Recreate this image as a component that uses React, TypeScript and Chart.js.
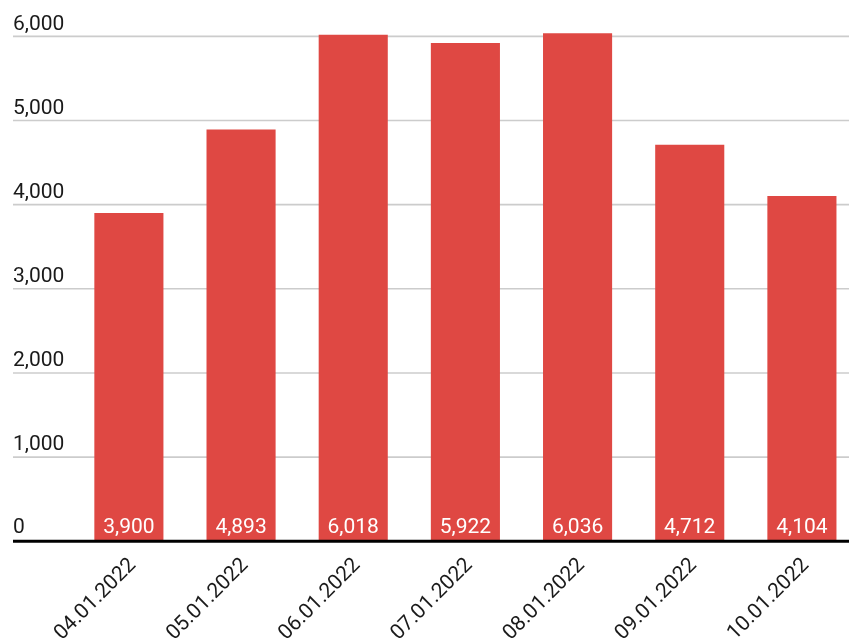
import React, { useEffect, useRef } from "react";
import { Chart, registerables } from "chart.js";

Chart.register(...registerables);

const categories = ["04.01.2022", "05.01.2022", "06.01.2022", "07.01.2022", "08.01.2022", "09.01.2022", "10.01.2022"];
const values = [3900, 4893, 6018, 5922, 6036, 4712, 4104];
const yTicks = [0, 1000, 2000, 3000, 4000, 5000, 6000];

const FONT = "Roboto, 'Noto Sans', sans-serif";
const fmt = (v: number) => v.toLocaleString("en-US");

const overlayPlugin = {
  id: "overlay",
  beforeDatasetsDraw(chart: any) {
    const { ctx, scales } = chart;
    const y = scales.y;
    ctx.save();
    ctx.strokeStyle = "#cccccc";
    ctx.lineWidth = 1.6;
    ctx.font = `21px ${FONT}`;
    ctx.fillStyle = "#1a1a1a";
    ctx.textAlign = "left";
    ctx.textBaseline = "alphabetic";
    yTicks.forEach((t) => {
      const py = y.getPixelForValue(t);
      if (t !== 0) {
        ctx.beginPath();
        ctx.moveTo(13, py);
        ctx.lineTo(chart.width, py);
        ctx.stroke();
      }
      ctx.fillText(fmt(t), 13, py - (t === 0 ? 8.5 : 6.8));
    });
    ctx.restore();
  },
  afterDatasetsDraw(chart: any) {
    const { ctx, scales } = chart;
    const y = scales.y;
    const zero = y.getPixelForValue(0);
    ctx.save();
    ctx.strokeStyle = "#000000";
    ctx.lineWidth = 3;
    ctx.beginPath();
    ctx.moveTo(13, zero);
    ctx.lineTo(chart.width, zero);
    ctx.stroke();
    const meta = chart.getDatasetMeta(0);
    ctx.font = `21px ${FONT}`;
    ctx.fillStyle = "#ffffff";
    ctx.textAlign = "center";
    ctx.textBaseline = "alphabetic";
    meta.data.forEach((bar: any, i: number) => {
      ctx.fillText(fmt(values[i]), bar.x, zero - 8);
    });
    ctx.restore();
  },
};

export default function App() {
  const ref = useRef<HTMLCanvasElement>(null);
  useEffect(() => {
    if (!ref.current) return;
    const chart = new Chart(ref.current, {
      type: "bar",
      data: {
        labels: categories,
        datasets: [
          {
            data: values,
            backgroundColor: "#df4843",
            borderWidth: 0,
            barPercentage: 1,
            categoryPercentage: 0.616,
          },
        ],
      },
      options: {
        animation: false,
        responsive: true,
        maintainAspectRatio: false,
        layout: { padding: { top: 19.5, left: 0, right: 0, bottom: 0 } },
        plugins: { legend: { display: false }, tooltip: { enabled: false } },
        scales: {
          y: {
            min: 0,
            max: 6200,
            ticks: { display: false },
            grid: { display: false },
            border: { display: false },
            afterFit: (s: any) => {
              s.width = 72.8;
            },
          },
          x: {
            grid: { display: false },
            border: { display: false },
            ticks: {
              minRotation: 45,
              maxRotation: 45,
              color: "#1a1a1a",
              font: { family: FONT, size: 21 },
              padding: 4,
              labelOffset: 4,
            },
            afterFit: (s: any) => {
              s.height = 99.7;
            },
          },
        },
      },
      plugins: [overlayPlugin],
    });
    return () => chart.destroy();
  }, []);
  return (
    <div style={{ position: "fixed", left: 0, top: 0, width: 858, height: 641, background: "#fff" }}>
      <canvas ref={ref} />
    </div>
  );
}
